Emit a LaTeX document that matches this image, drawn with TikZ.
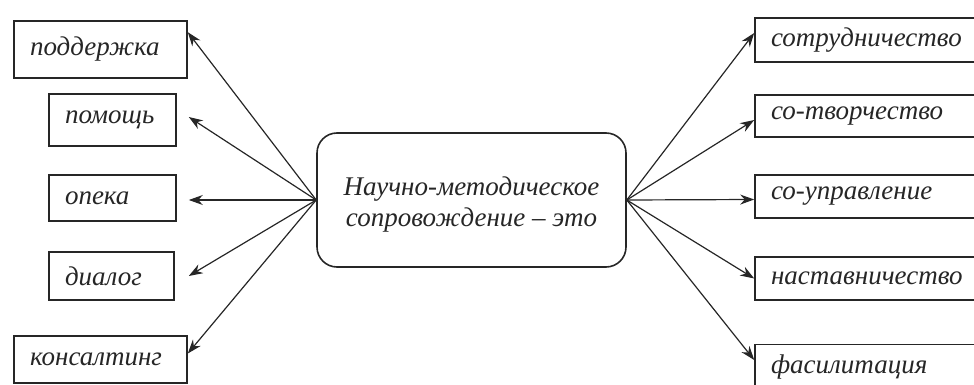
\documentclass[tikz,border=0pt]{standalone}
\usepackage{fontspec}
\setmainfont{Liberation Serif}
\usepackage{tikz}
\usetikzlibrary{positioning,shapes,arrows.meta,calc}
\definecolor{darkline}{rgb}{0.15,0.15,0.15}
\tikzstyle{item}=[%
      rectangle, draw=darkline, line width=0.8pt, fill=none, text=darkline,
      text ragged, align=left, inner xsep=8pt, inner ysep=0pt,
      font=\itshape\fontsize{13.5}{16}\selectfont
]
\tikzstyle{centre}=[%
      rectangle, rounded corners=10pt, draw=darkline, line width=0.8pt, fill=none, text=darkline,
      align=center, minimum width=154.5pt, minimum height=67pt,
      font=\itshape\fontsize{13.5}{15.5}\selectfont
]

\begin{document}
\begin{tikzpicture}[x=0.5pt, y=-0.5pt,
    ->,
    >={Stealth[length=7pt,width=5pt]},
    darkline, line width=0.6pt
  ]
    \useasboundingbox (0,0) rectangle (974,385);
    \clip (0,0) rectangle (974,385);

    \node[centre] (nms) at (471.5,200) {\rule{0pt}{14pt}Научно-методическое\\сопровождение -- это};

    % left side
    \node[item, text width=70.5pt, minimum height=28.5pt] (podd) at (100.5,49.5) {поддержка};
    \node[item, text width=47.5pt, minimum height=26pt]   (pomo) at (112.5,120)  {помощь};
    \node[item, text width=47.5pt, minimum height=23pt]   (opek) at (112.5,198)  {опека};
    \node[item, text width=46.5pt, minimum height=24pt]   (dial) at (111.5,276)  {диалог};
    \node[item, text width=70.5pt, minimum height=23.5pt] (kons) at (100.5,359.5) {консалтинг};

    % right side
    \node[item, text width=104pt, minimum height=22pt]   (sotr) at (875,40)    {сотрудничество};
    \node[item, text width=104pt, minimum height=21pt]   (sotv) at (875,116)   {со-творчество};
    \node[item, text width=104pt, minimum height=21.5pt] (supr) at (875,196.5) {со-управление};
    \node[item, text width=104pt, minimum height=21.5pt] (nast) at (875,278.5) {наставничество};
    \node[item, text width=104pt, minimum height=22.5pt] (fasi) at (875,367)   {фасилитация};

    \draw (nms.west) -- ([yshift=-6pt]podd.north east);
    \draw (nms.west) -- ([xshift=6pt,yshift=1.5pt]pomo.east);
    \draw (nms.west) -- ([xshift=6pt,yshift=-1pt]opek.east);
    \draw (nms.west) -- ([xshift=7pt]dial.east);
    \draw (nms.west) -- ([yshift=3pt]kons.east);

    \draw (nms.east) -- ([yshift=3.5pt]sotr.west);
    \draw (nms.east) -- ([yshift=-2pt]sotv.west);
    \draw (nms.east) -- ([yshift=-1.5pt]supr.west);
    \draw (nms.east) -- (nast.west);
    \draw (nms.east) -- ([yshift=3.5pt]fasi.west);

  \end{tikzpicture}
\end{document}
